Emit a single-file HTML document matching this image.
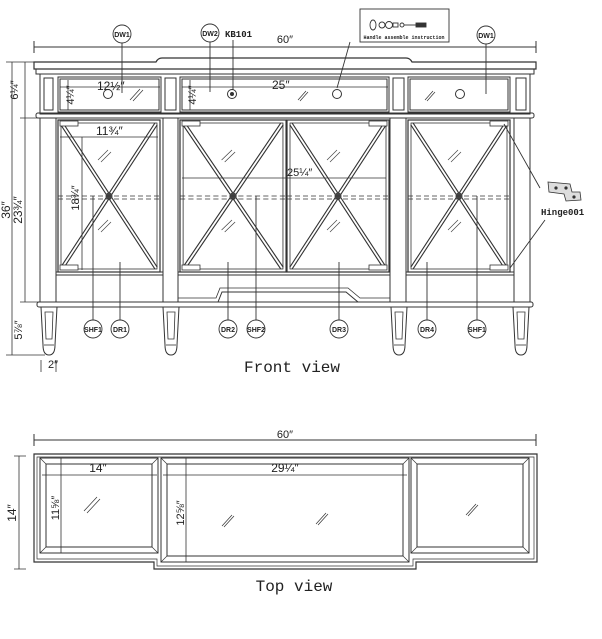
<!DOCTYPE html>
<html><head><meta charset="utf-8"><style>
html,body{margin:0;padding:0;background:#fff;}
svg{display:block;}
text{font-family:"Liberation Sans",sans-serif;fill:#222;}
.m{font-family:"Liberation Mono",monospace;}
</style></head><body>
<svg width="602" height="639" viewBox="0 0 602 639" xmlns="http://www.w3.org/2000/svg">
<defs>
<g id="door">
  <rect x="0" y="0" width="102" height="152" fill="none" stroke="#333" stroke-width="1.2"/>
  <rect x="3" y="3" width="96" height="146" fill="none" stroke="#333" stroke-width="0.8"/>
  <g stroke="#333" stroke-width="4" fill="none"><path d="M4 4 L51 76 L98 4 M4 148 L51 76 L98 148"/></g>
  <g stroke="#fff" stroke-width="1.8" fill="none"><path d="M4 4 L51 76 L98 4 M4 148 L51 76 L98 148"/></g>
  <circle cx="51" cy="76" r="3.5" fill="#444"/>
  <path d="M0 76 H102" stroke="#333" stroke-dasharray="5 3" stroke-width="0.8"/>
  <path d="M0 79 H102" stroke="#333" stroke-dasharray="5 3" stroke-width="0.8"/>
  <path d="M40 40 l10 -10 M43 42 l10 -10" stroke="#444" stroke-width="0.7"/>
  <path d="M40 110 l10 -10 M43 112 l10 -10" stroke="#444" stroke-width="0.7"/>
</g>
<g id="leg">
  <path d="M0 0 H16 L14 38 Q14 48 8 48 Q2 48 2 38 Z" fill="none" stroke="#333" stroke-width="1"/>
  <path d="M4 5 H12 L11 32 H5 Z" fill="none" stroke="#333" stroke-width="0.8"/>
  <path d="M3 38 H13" stroke="#333" stroke-width="0.8"/>
</g>
</defs>
<g stroke="#333" fill="none" stroke-width="1">
<!-- 60" dim -->
<path d="M34 47 H536 M34 41 V53 M536 41 V53"/>
<!-- cornice -->
<path d="M34 62 H156 Q158 58 162 58 H406 Q410 58 412 62 H536 V69 H34 Z" stroke-width="1.2"/>
<path d="M36 69 V74 H534 V69"/>
<!-- upper body -->
<rect x="40" y="74" width="490" height="40"/>
<rect x="44" y="78" width="9" height="32"/><rect x="165" y="78" width="11" height="32"/>
<rect x="393" y="78" width="11" height="32"/><rect x="516" y="78" width="10" height="32"/>
<rect x="58" y="77" width="103" height="35"/><rect x="60" y="79" width="99" height="31"/>
<rect x="180" y="77" width="209" height="35"/><rect x="182" y="79" width="205" height="31"/>
<rect x="408" y="77" width="102" height="35"/><rect x="410" y="79" width="98" height="31"/>
<circle cx="108" cy="94" r="4.5"/><circle cx="232" cy="94" r="4.5"/><circle cx="232" cy="94" r="1.5" fill="#333"/>
<circle cx="337" cy="94" r="4.5"/><circle cx="460" cy="94" r="4.5"/>
<path d="M130 100 l10 -11 M133 101 l10 -11 M298 100 l8 -9 M300 101 l8 -9 M425 100 l8 -9 M427 101 l8 -9" stroke-width="0.7"/>
<!-- mid molding -->
<rect x="36" y="113" width="498" height="5" rx="2"/>
<!-- lower body -->
<path d="M40 118 V302 M530 118 V302"/>
<path d="M56 118 V302 M163 118 V302 M178 118 V302 M390 118 V302 M406 118 V302 M514 118 V302"/>
<path d="M56 272 H163 M178 272 H390 M406 272 H514 M56 275 H163 M178 275 H390 M406 275 H514"/>
<path d="M40 302 H163 M178 302 H218 L222 292 H346 L358 302 H390 M406 302 H530"/>
<path d="M178 298 H216 L220 288 H348 L360 298 H390" stroke-width="0.8"/>
<rect x="37" y="302" width="496" height="5" rx="2"/>
</g>
<use href="#door" x="58" y="120"/>
<use href="#door" x="180" y="120" transform="translate(180,0) scale(1,1)" style="display:none"/>
<g transform="translate(180,120) scale(1.04,1)"><use href="#door"/></g>
<g transform="translate(287,120)"><use href="#door"/></g>
<use href="#door" x="408" y="120"/>
<!-- hinges -->
<g fill="#fff" stroke="#333" stroke-width="0.8">
<rect x="60" y="121" width="18" height="5"/><rect x="60" y="265" width="18" height="5"/>
<rect x="182" y="121" width="18" height="5"/><rect x="182" y="265" width="18" height="5"/>
<rect x="369" y="121" width="18" height="5"/><rect x="369" y="265" width="18" height="5"/>
<rect x="490" y="121" width="18" height="5"/><rect x="490" y="265" width="18" height="5"/>
</g>
<g fill="none" stroke="#333" stroke-width="1"><use href="#leg" x="41" y="307"/><use href="#leg" x="163" y="307"/><use href="#leg" x="391" y="307"/><use href="#leg" x="513" y="307"/></g>
<!-- dims inner -->
<g stroke="#333" stroke-width="0.8" fill="none">
<path d="M60 87 H160 M182 87 H388 M60 137 H158 M182 178 H386 M82 137 V270 M68 80 V110 M190 80 V110"/>
<path d="M12 62 V355 M25 62 V302 M6 62 H62 M20 118 H60 M6 355 H45 M20 302 H40 M41 360 V372 M56 360 V372"/>
</g>
<text x="97" y="90" font-size="12">12½″</text>
<text x="272" y="89" font-size="12">25″</text>
<text x="96" y="135" font-size="12">11¾″</text>
<text x="287" y="176" font-size="11">25¼″</text>
<text x="48" y="368" font-size="11">2″</text>
<g font-size="11">
<text transform="translate(18,90) rotate(-90)" text-anchor="middle">6¼″</text>
<text transform="translate(74,95) rotate(-90)" text-anchor="middle">4¼″</text>
<text transform="translate(196,95) rotate(-90)" text-anchor="middle">4¼″</text>
<text transform="translate(10,210) rotate(-90)" text-anchor="middle" font-size="12">36″</text>
<text transform="translate(22,210) rotate(-90)" text-anchor="middle" font-size="12">23¾″</text>
<text transform="translate(79,198) rotate(-90)" text-anchor="middle">18¾″</text>
<text transform="translate(22,330) rotate(-90)" text-anchor="middle">5⅞″</text>
</g>
<!-- labels -->
<g stroke="#333" fill="#fff" stroke-width="0.9">
<path d="M122 42 V93 M210 42 V92 M233 40 V90 M350 42 L337 88 M486 43 V94" fill="none"/>
<path d="M93 320 V196 M120 320 V262 M228 320 V262 M256 320 V196 M339 320 V262 M427 320 V262 M477 320 V196" fill="none"/>
<path d="M504 124 L540 188 M510 268 L545 220" fill="none"/>
<circle cx="122" cy="34" r="9"/><circle cx="210" cy="33" r="9"/><circle cx="486" cy="35" r="9"/>
<circle cx="93" cy="329" r="9"/><circle cx="120" cy="329" r="9"/><circle cx="228" cy="329" r="9"/><circle cx="256" cy="329" r="9"/><circle cx="339" cy="329" r="9"/><circle cx="427" cy="329" r="9"/><circle cx="477" cy="329" r="9"/>
<rect x="360" y="9" width="89" height="33" fill="none"/>
</g>
<g font-size="7" font-weight="bold" text-anchor="middle" class="m">
<text x="122" y="37">DW1</text><text x="210" y="36">DW2</text><text x="486" y="38">DW1</text>
<text x="93" y="332">SHF1</text><text x="120" y="332">DR1</text><text x="228" y="332">DR2</text><text x="256" y="332">SHF2</text><text x="339" y="332">DR3</text><text x="427" y="332">DR4</text><text x="477" y="332">SHF1</text>
</g>
<text x="225" y="37" font-size="9" font-weight="bold" class="m">KB101</text>
<text x="404" y="39" font-size="5" font-weight="bold" text-anchor="middle" class="m">Handle assemble instruction</text>
<g stroke="#333" fill="none" stroke-width="0.9"><ellipse cx="373" cy="25" rx="3" ry="5"/><circle cx="382" cy="25" r="3"/><circle cx="389" cy="25" r="3.5"/><rect x="393" y="23" width="5" height="4"/><circle cx="402" cy="25" r="2"/><path d="M404 25 H416"/><rect x="416" y="23" width="10" height="4" fill="#333"/></g>
<g stroke="#333" fill="#ddd" stroke-width="0.8"><path d="M548 182 L570 184 L572 192 L580 192 L581 200 L566 201 L564 194 L549 192 Z"/><circle cx="556" cy="188" r="1.2" fill="#333"/><circle cx="566" cy="188" r="1.2" fill="#333"/><circle cx="574" cy="197" r="1.2" fill="#333"/></g>
<text x="541" y="215" font-size="9" font-weight="bold" class="m">Hinge001</text>
<text x="292" y="372" font-size="16" text-anchor="middle" class="m">Front view</text>
<!-- TOP VIEW -->
<g stroke="#333" fill="none" stroke-width="1">
<path d="M34 440 H536 M34 434 V446 M536 434 V446"/>
<path d="M34 454 H537 V562 H416 V569 H154 V562 H34 Z" stroke-width="1.2"/>
<path d="M37 457 H534 V559 H413 V566 H157 V559 H37 Z" stroke-width="0.7"/>
<rect x="40" y="458" width="118" height="95"/><rect x="46" y="464" width="106" height="83"/>
<path d="M40 458 L46 464 M158 458 L152 464 M40 553 L46 547 M158 553 L152 547" stroke-width="0.7"/>
<rect x="161" y="458" width="248" height="104"/><rect x="167" y="464" width="236" height="92"/>
<path d="M161 458 L167 464 M409 458 L403 464 M161 562 L167 556 M409 562 L403 556" stroke-width="0.7"/>
<rect x="411" y="458" width="118" height="95"/><rect x="417" y="464" width="106" height="83"/>
<path d="M411 458 L417 464 M529 458 L523 464 M411 553 L417 547 M529 553 L523 547" stroke-width="0.7"/>
<path d="M42 475 H157 M163 475 H407 M61 458 V553 M186 458 V562 M19 456 V569 M14 456 H26 M14 569 H26" stroke-width="0.8"/>
<path d="M84 511 l13 -14 M87 513 l13 -14 M222 526 l10 -11 M224 527 l10 -11 M316 524 l10 -11 M318 525 l10 -11 M466 515 l10 -11 M468 516 l10 -11" stroke-width="0.7"/>
</g>
<text x="285" y="438" font-size="11" text-anchor="middle">60″</text>
<text x="285" y="43" font-size="11" text-anchor="middle">60″</text>
<text x="98" y="472" font-size="12" text-anchor="middle">14″</text>
<text x="285" y="472" font-size="12" text-anchor="middle">29¼″</text>
<text transform="translate(16,513) rotate(-90)" text-anchor="middle" font-size="12">14″</text>
<text transform="translate(59,508) rotate(-90)" text-anchor="middle" font-size="11">11⅝″</text>
<text transform="translate(184,513) rotate(-90)" text-anchor="middle" font-size="11">12⅝″</text>
<text x="294" y="591" font-size="16" text-anchor="middle" class="m">Top view</text>
</svg>
</body></html>
